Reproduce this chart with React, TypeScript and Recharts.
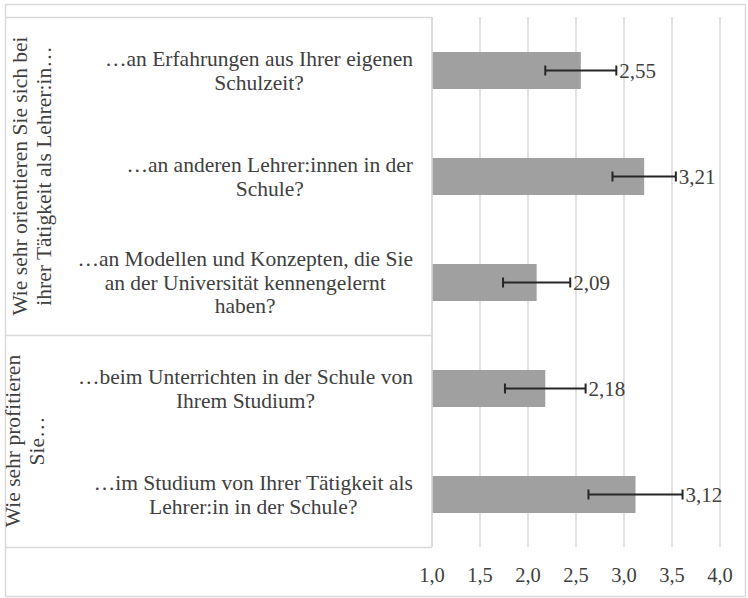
import { Bar, BarChart, CartesianGrid, ErrorBar, LabelList, XAxis, YAxis } from "recharts";

const questions = [
  "…an Erfahrungen aus Ihrer eigenen\nSchulzeit?",
  "…an anderen Lehrer:innen in der\nSchule?",
  "…an Modellen und Konzepten, die Sie\nan der Universität kennengelernt\nhaben?",
  "…beim Unterrichten in der Schule von\nIhrem Studium?",
  "…im Studium von Ihrer Tätigkeit als\nLehrer:in in der Schule?",
];
const means = [2.55, 3.21, 2.09, 2.18, 3.12];
const errors = [0.37, 0.33, 0.35, 0.42, 0.49];

const groupTitles = ["Wie sehr orientieren Sie sich bei\nihrer Tätigkeit als Lehrer:in…", "Wie sehr profitieren\nSie…"];
const groupSizes = [3, 2];

const xTicks = [1, 1.5, 2, 2.5, 3, 3.5, 4];

const data = questions.map((q, i) => ({ question: q, mean: means[i], err: errors[i] }));

const W = 748;
const H = 598;
const M = { top: 17, right: 28, bottom: 21, left: 5 };
const X_AXIS_H = 30;
const Y_AXIS_W = 427;
const FONT = '"Liberation Serif", "Times New Roman", serif';
const FS_CAT = 21.5;
const FS_NUM = 20.5;
const LH = 23.6;
const TEXT = "#404040";
const LINE = "#d9d9d9";
// baseline of the first line of each rotated group title
const GROUP_BASE_X = [27, 20];

const comma = (v: number, d: number) => v.toFixed(d).replace(".", ",");

let ctx: CanvasRenderingContext2D | null = null;
function textWidth(s: string) {
  if (!ctx) ctx = document.createElement("canvas").getContext("2d");
  if (!ctx) return s.length * FS_CAT * 0.45;
  ctx.font = `${FS_CAT}px ${FONT}`;
  return ctx.measureText(s).width;
}

function QuestionTick(props: any) {
  const { x, y, payload } = props;
  const lines: string[] = String(payload.value).split("\n");
  const maxW = Math.max(...lines.map(textWidth));
  const cx = x - maxW / 2;
  return (
    <text x={cx} y={y} textAnchor="middle" fontFamily={FONT} fontSize={FS_CAT} fill={TEXT}>
      {lines.map((l, i) => (
        <tspan key={i} x={cx} y={y + (i - (lines.length - 1) / 2) * LH} dy="0.36em">
          {l}
        </tspan>
      ))}
    </text>
  );
}

function ValueLabel(props: any) {
  const { x, y, width, height, value, index } = props;
  const v = Number(value);
  const perUnit = width / (v - xTicks[0]);
  const xEnd = x + width + errors[index] * perUnit + 3;
  return (
    <text x={xEnd} y={y + height / 2} dy="0.36em" fontFamily={FONT} fontSize={21} fill={TEXT}>
      {comma(v, 2)}
    </text>
  );
}

function Frame() {
  const plotTop = M.top;
  const plotBottom = H - M.bottom - X_AXIS_H;
  const band = (plotBottom - plotTop) / questions.length;
  const axisX = M.left + Y_AXIS_W;
  let start = 0;
  const items = groupTitles.map((t, gi) => {
    const y0 = plotTop + start * band;
    const y1 = y0 + groupSizes[gi] * band;
    start += groupSizes[gi];
    const lines = t.split("\n");
    return (
      <g key={gi}>
        <line x1={M.left} x2={axisX} y1={y1 + 0.5} y2={y1 + 0.5} stroke={LINE} strokeWidth={1.5} />
        <text
          transform={`translate(${GROUP_BASE_X[gi]}, ${(y0 + y1) / 2}) rotate(-90)`}
          textAnchor="middle"
          fontFamily={FONT}
          fontSize={FS_CAT}
          fill={TEXT}
        >
          {lines.map((l, i) => (
            <tspan key={i} x={0} y={i * LH}>
              {l}
            </tspan>
          ))}
        </text>
      </g>
    );
  });
  return (
    <svg width={W} height={H} style={{ position: "absolute", left: 0, top: 0, pointerEvents: "none" }}>
      <rect x={5.5} y={4.5} width={740} height={592} fill="none" stroke={LINE} strokeWidth={1.5} />
      <line x1={M.left} x2={axisX} y1={plotTop + 0.5} y2={plotTop + 0.5} stroke={LINE} strokeWidth={1.5} />
      <line x1={axisX} x2={axisX} y1={plotTop} y2={plotBottom} stroke={LINE} strokeWidth={1.5} />
      {items}
    </svg>
  );
}

export default function App() {
  return (
    <div style={{ position: "fixed", left: 0, top: 0, width: W, height: H, background: "#fff" }}>
      <BarChart width={W} height={H} data={data} layout="vertical" margin={M} barSize={37}>
        <CartesianGrid horizontal={false} stroke={LINE} strokeWidth={1.5} />
        <XAxis
          type="number"
          domain={[1, 4]}
          ticks={xTicks}
          height={X_AXIS_H}
          axisLine={false}
          tickLine={false}
          tickMargin={14}
          tickFormatter={(v: number) => comma(v, 1)}
          tick={{ fontFamily: FONT, fontSize: FS_NUM, fill: TEXT }}
        />
        <YAxis
          type="category"
          dataKey="question"
          width={Y_AXIS_W}
          axisLine={false}
          tickLine={false}
          tickSize={0}
          tickMargin={19}
          interval={0}
          tick={<QuestionTick />}
        />
        <Bar dataKey="mean" fill="#a0a0a0" isAnimationActive={false}>
          <ErrorBar dataKey="err" direction="x" width={5} stroke="#262626" strokeWidth={2} />
          <LabelList dataKey="mean" content={<ValueLabel />} />
        </Bar>
      </BarChart>
      <Frame />
    </div>
  );
}
